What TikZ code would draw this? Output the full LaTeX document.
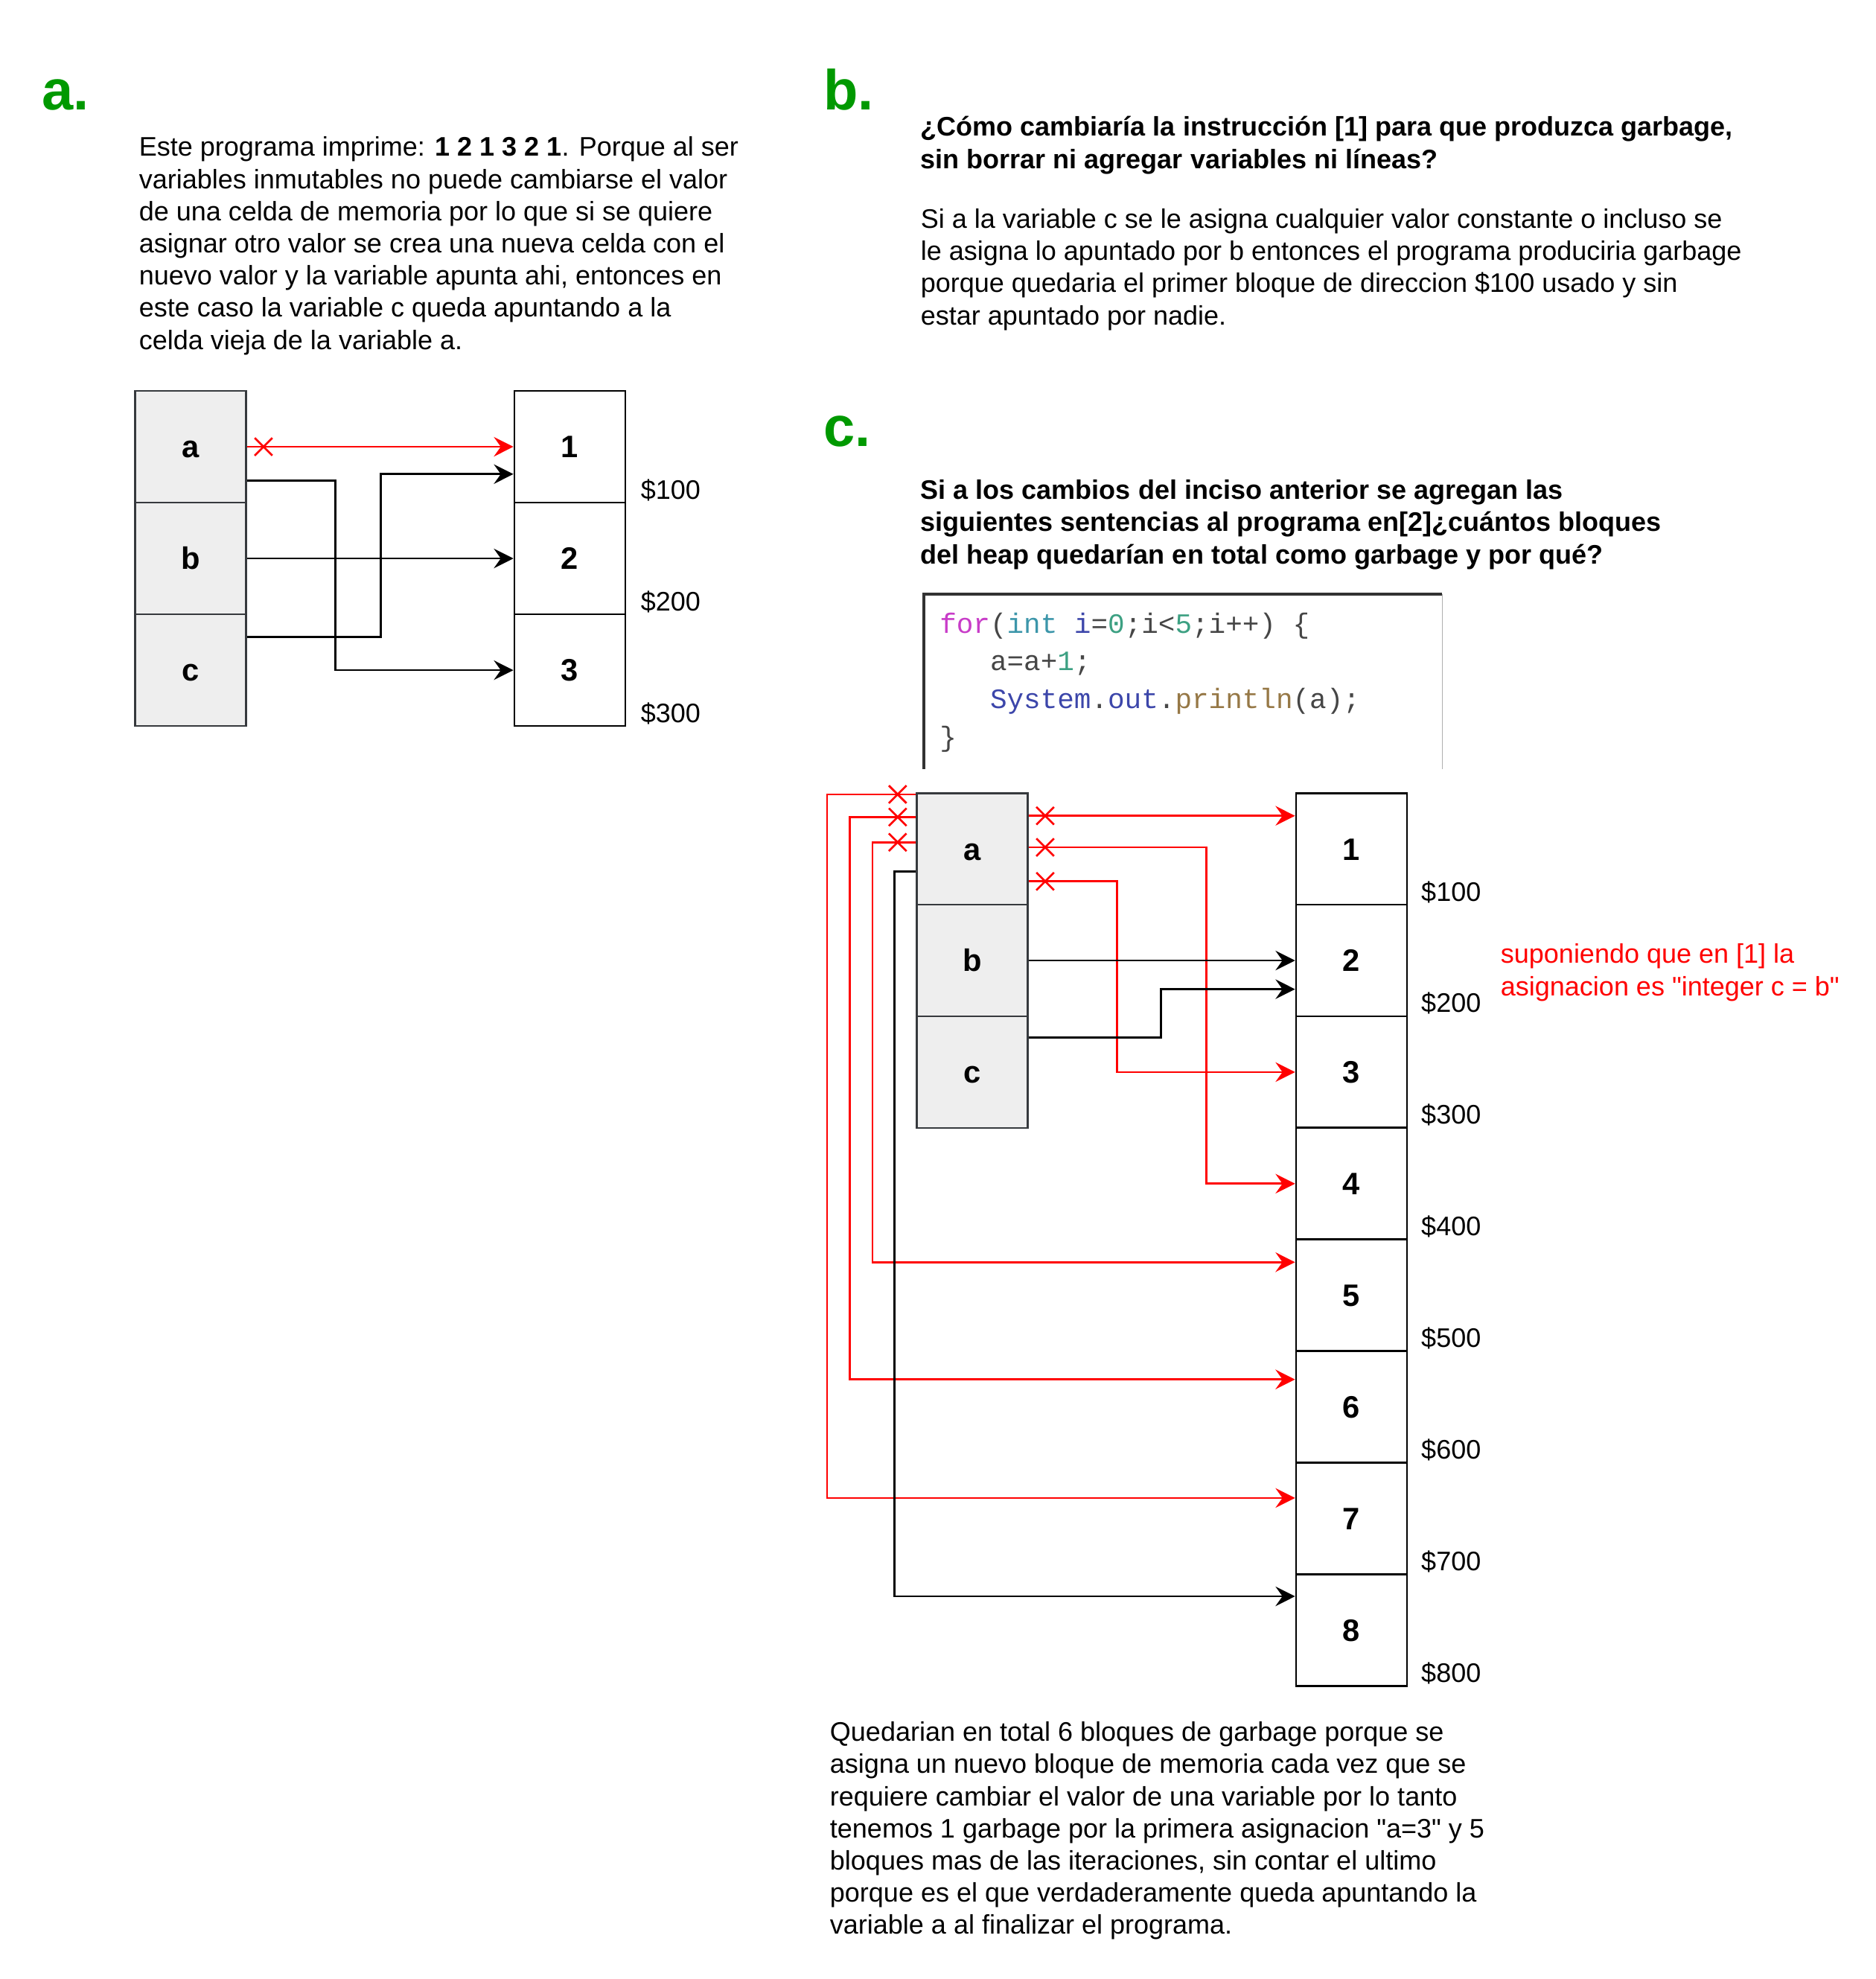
\documentclass[tikz,border=0pt]{standalone}
\usepackage{fontspec}
\setmainfont{Liberation Sans}[Ligatures=TeXOff]
\newfontfamily\codefont{Liberation Mono}
\usetikzlibrary{arrows.meta,calc}
\definecolor{hgreen}{RGB}{0,153,0}
\definecolor{varborder}{HTML}{36393D}
\definecolor{varfill}{HTML}{EEEEEE}
\definecolor{ckw}{RGB}{200,60,200}
\definecolor{cty}{RGB}{60,150,170}
\definecolor{cvar}{RGB}{60,70,170}
\definecolor{cnum}{RGB}{60,160,130}
\definecolor{cpl}{RGB}{70,70,70}
\definecolor{cfn}{RGB}{150,120,70}
\definecolor{edgedark}{RGB}{50,50,50}
\definecolor{edgelight}{RGB}{175,175,175}
\begin{document}
\begin{tikzpicture}[x=0.02cm,y=-0.02cm,
  every node/.style={inner sep=0pt},
  txt/.style={anchor=base west, font=\fontsize{12.1pt}{14.5pt}\selectfont},
  btxt/.style={anchor=base west, font=\fontsize{12.1pt}{14.5pt}\selectfont\bfseries},
  rtxt/.style={txt, text=red},
  head/.style={anchor=base west, text=hgreen, font=\fontsize{25.5pt}{30pt}\selectfont\bfseries},
  cellbox/.style={line width=0.9pt, minimum width=1.76cm, minimum height=1.772cm, text height=10pt, text depth=0pt, font=\fontsize{14pt}{16pt}\selectfont\bfseries},
  varbox/.style={cellbox, draw=varborder, fill=varfill},
  membox/.style={cellbox, draw=black, fill=white},
  code/.style={anchor=base west, text=cpl, font={\codefont\fontsize{12.65pt}{15pt}\selectfont}},
  conn/.style={line width=0.9pt, -{Stealth[length=0.31cm,width=0.31cm,inset=0.11cm]}},
  blk/.style={conn, draw=black},
  rd/.style={conn, draw=red},
  xm/.style={draw=red, line width=0.9pt},
]
\useasboundingbox (0,0) rectangle (1488,1569.5);

% headings
\node[head] (ha) at (33,87) {a.};
\node[head] (hb) at (653,87) {b.};
\node[head] (hc) at (653,354) {c.};

% part a text
\foreach \t [count=\i from 0] in {
  {Este programa imprime: \textbf{1 2 1 3 2 1}. Porque al ser},
  {variables inmutables no puede cambiarse el valor},
  {de una celda de memoria por lo que si se quiere},
  {asignar otro valor se crea una nueva celda con el},
  {nuevo valor y la variable apunta ahi, entonces en},
  {este caso la variable c queda apuntando a la},
  {celda vieja de la variable a.}}
  \node[txt] (ta\i) at (110,{124+25.5*\i}) {\t};

% part b text
\node[btxt] (qb0) at (730,108) {¿Cómo cambiaría la instrucción [1] para que produzca garbage,};
\node[btxt] (qb1) at (730,134) {sin borrar ni agregar variables ni líneas?};
\foreach \t [count=\i from 0] in {
  {Si a la variable c se le asigna cualquier valor constante o incluso se},
  {le asigna lo apuntado por b entonces el programa produciria garbage},
  {porque quedaria el primer bloque de direccion \$100 usado y sin},
  {estar apuntado por nadie.}}
  \node[txt] (tb\i) at (730,{181+25.5*\i}) {\t};

% part c question
\foreach \t [count=\i from 0] in {
  {Si a los cambios del inciso anterior se agregan las},
  {siguientes sentencias al programa en[2]¿cuántos bloques},
  {del heap quedarían en total como garbage y por qué?}}
  \node[btxt] (qc\i) at (730,{396+25.5*\i}) {\t};

% code box
\draw[edgedark, line width=1.3pt] (733,610) -- (733,471) -- (1144,471);
\draw[edgelight, line width=0.6pt] (1144,471) -- (1144,610);
\node[code] (cl1) at (745,502) {\textcolor{ckw}{for}(\textcolor{cty}{int} \textcolor{cvar}{i}=\textcolor{cnum}{0};i<\textcolor{cnum}{5};i++) \{};
\node[code] (cl2) at (785,532) {a=a+\textcolor{cnum}{1};};
\node[code] (cl3) at (785,562) {\textcolor{cvar}{System}.\textcolor{cvar}{out}.\textcolor{cfn}{println}(a);};
\node[code] (cl4) at (745,592) {\}};

% part a diagram
\node[varbox] (va1) at (151,354.3) {a};
\node[varbox] (vb1) at (151,442.9) {b};
\node[varbox] (vc1) at (151,531.5) {c};
\node[membox] (m11) at (452,354.3) {1};
\node[membox] (m12) at (452,442.9) {2};
\node[membox] (m13) at (452,531.5) {3};
\node[txt] (ad11) at (508,396) {\$100};
\node[txt] (ad12) at (508,484.5) {\$200};
\node[txt] (ad13) at (508,573) {\$300};

\draw[rd] (va1.east) -- (m11.west);
\draw[xm] (209,354.3) +(-7,-7) -- +(7,7) +(-7,7) -- +(7,-7);
\draw[blk] (va1.east |- 0,381) -- (266,381) |- (m13.west);
\draw[blk] (vb1.east) -- (m12.west);
\draw[blk] (vc1.east |- 0,505) -- (302,505) |- (m11.west |- 0,376);

% part c diagram
\node[varbox] (va2) at (771,673.25) {a};
\node[varbox] (vb2) at (771,761.75) {b};
\node[varbox] (vc2) at (771,850.25) {c};
\foreach \i in {1,...,8}
  \node[membox] (mc\i) at (1072,{673.25+88.5*(\i-1)}) {\i};
\foreach \t [count=\i] in {100,200,300,400,500,600,700,800}
  \node[txt] (adc\i) at (1127,{714.5+88.5*(\i-1)}) {\$\t};

\node[rtxt] (note1) at (1190,764) {suponiendo que en [1] la};
\node[rtxt] (note2) at (1190,790) {asignacion es "integer c = b"};

\draw[rd] (va2.east |- 0,647) -- (mc1.west |- 0,647);
\draw[rd] (va2.east |- 0,672) -- (957,672) |- (mc4.west);
\draw[rd] (va2.east |- 0,699) -- (886,699) |- (mc3.west);
\draw[blk] (vb2.east) -- (mc2.west);
\draw[blk] (vc2.east |- 0,823) -- (921,823) -- (921,784.5) -- (mc2.west |- 0,784.5);
\draw[rd] (va2.west |- 0,630) -- (656,630) |- (mc7.west |- 0,1188);
\draw[rd] (va2.west |- 0,648) -- (674,648) |- (mc6.west |- 0,1094);
\draw[rd] (va2.west |- 0,668) -- (692,668) |- (mc5.west |- 0,1001);
\draw[blk] (va2.west |- 0,691) -- (709.5,691) |- (mc8.west |- 0,1266);

\foreach \p in {(829,647),(829,672),(829,699),(712,630),(712,648),(712,668)}
  \draw[xm] \p +(-7,-7) -- +(7,7) +(-7,7) -- +(7,-7);

% bottom text
\foreach \t [count=\i from 0] in {
  {Quedarian en total 6 bloques de garbage porque se},
  {asigna un nuevo bloque de memoria cada vez que se},
  {requiere cambiar el valor de una variable por lo tanto},
  {tenemos 1 garbage por la primera asignacion "a=3" y 5},
  {bloques mas de las iteraciones, sin contar el ultimo},
  {porque es el que verdaderamente queda apuntando la},
  {variable a al finalizar el programa.}}
  \node[txt] (tc\i) at (658,{1381+25.5*\i}) {\t};
\end{tikzpicture}
\end{document}
